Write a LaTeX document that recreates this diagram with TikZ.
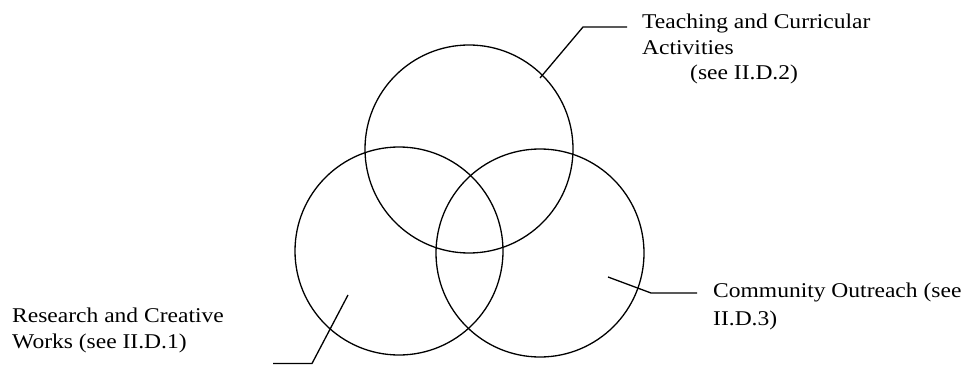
\documentclass[tikz,border=0pt]{standalone}
\usepackage{fontspec}
\setmainfont{Liberation Serif}[FakeStretch=1.12]
\begin{document}
\begin{tikzpicture}[x=1pt,y=-1pt,
  ring/.style={circle,draw,line width=1.3pt,minimum size=208pt,inner sep=0pt},
  leader/.style={line width=1.3pt},
  lbl/.style={anchor=base west,inner sep=0pt,font=\fontsize{21}{26}\selectfont}]
\useasboundingbox (0,0) rectangle (973,366);
% circles
\node[ring] (top) at (469,149) {};
\node[ring] (left) at (399,251) {};
\node[ring] (right) at (540,253) {};
% labels
\node[lbl] (t1) at (642,29) {Teaching and Curricular};
\node[lbl] (t2) at (642,55) {Activities};
\node[lbl] (t3) at (690,80) {(see II.D.2)};
\node[lbl] (r1) at (12,322) {Research and Creative};
\node[lbl] (r2) at (12,348) {Works (see II.D.1)};
\node[lbl] (c1) at (713,297) {Community Outreach (see};
\node[lbl] (c2) at (713,325) {II.D.3)};
% leaders
\coordinate (ta) at (540,78);
\coordinate (tb) at (583,27);
\coordinate (tc) at (627,27);
\draw[leader] (ta) -- (tb) -- (tc);
\coordinate (la) at (348,295);
\coordinate (lb) at (312,363.5);
\coordinate (lc) at (273,363.5);
\draw[leader] (la) -- (lb) -- (lc);
\coordinate (ra) at (608,277);
\coordinate (rb) at (651,293);
\coordinate (rc) at (697,293);
\draw[leader] (ra) -- (rb) -- (rc);
\end{tikzpicture}
\end{document}
